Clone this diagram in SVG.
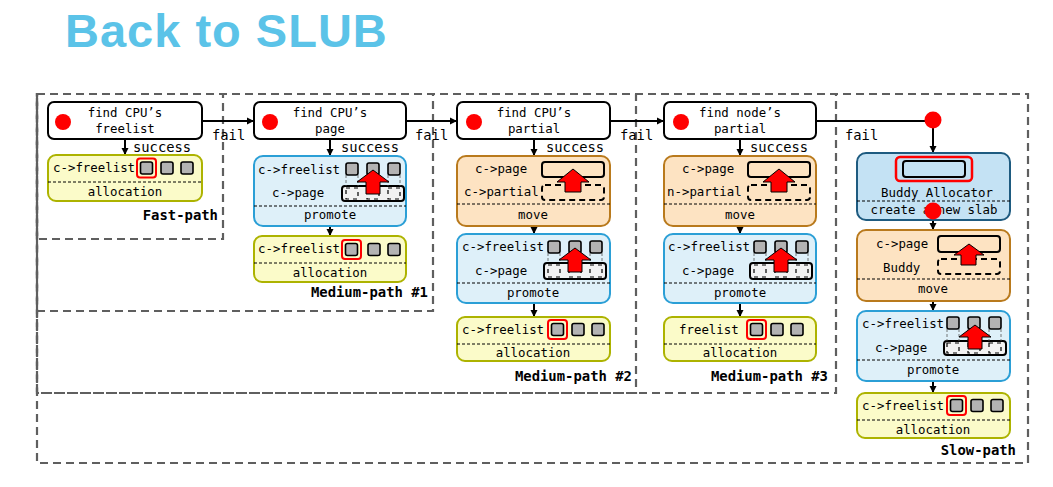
<svg xmlns="http://www.w3.org/2000/svg" width="1053" height="487" viewBox="0 0 1053 487">
<style>
.t{font-family:"DejaVu Sans Mono","Liberation Mono",monospace;font-size:12.4px;fill:#000}
.c{text-anchor:middle}
.lbl{font-family:"DejaVu Sans Mono","Liberation Mono",monospace;font-size:13.8px;fill:#000}
.reg{font-family:"DejaVu Sans Mono","Liberation Mono",monospace;font-size:13.9px;font-weight:bold;text-anchor:end;fill:#000}
.title{font-family:"Liberation Sans",Arial,sans-serif;font-size:47px;font-weight:bold;fill:#5bc3e8;letter-spacing:1px}
.region{fill:none;stroke:#5f5f5f;stroke-width:2.2;stroke-dasharray:8 5}
.find{fill:#fff;stroke:#000;stroke-width:2}
.alloc{fill:#fbfbc9;stroke:#adb300;stroke-width:2}
.prom{fill:#def0f9;stroke:#2b9fd6;stroke-width:2}
.move{fill:#fde3c2;stroke:#b97a1d;stroke-width:2}
.buddy{fill:#c4e2f4;stroke:#1e5b80;stroke-width:2}
.div{stroke:#000;stroke-width:1;stroke-dasharray:3 2}
.sq{fill:#b3b3b3;stroke:#000;stroke-width:1.6}
.hl{fill:none;stroke:#f00;stroke-width:2}
.dot{fill:#f00}
.arr{fill:#f00;stroke:#000;stroke-width:1}
.pg{fill:none;stroke:#000;stroke-width:2}
.pgp{fill:#f2f2f2;stroke:#000;stroke-width:2}
.ghost{fill:none;stroke:#000;stroke-width:1.2;stroke-dasharray:4 4}
.gline{stroke:#555;stroke-width:0.8;stroke-dasharray:3 2}
.dash{fill:none;stroke:#000;stroke-width:2;stroke-dasharray:6 4}
.con{fill:none;stroke:#000;stroke-width:2}
</style>
<defs>
<marker id="ah" markerUnits="userSpaceOnUse" markerWidth="8" markerHeight="8" refX="7" refY="4" orient="auto">
<path d="M0,0.5 L7,4 L0,7.5 Z" fill="#000"/>
</marker>
</defs>

<text class="title" x="65" y="47">Back to SLUB</text>

<g id="regions">
<rect class="region" x="37" y="94" width="991" height="369"/>
<rect class="region" x="37" y="94" width="799" height="299"/>
<rect class="region" x="37" y="94" width="599" height="299"/>
<rect class="region" x="37" y="94" width="396" height="217"/>
<rect class="region" x="37" y="94" width="186" height="145"/>
<text class="reg" x="218" y="220">Fast-path</text>
<text class="reg" x="428" y="297">Medium-path #1</text>
<text class="reg" x="632" y="381">Medium-path #2</text>
<text class="reg" x="828" y="381">Medium-path #3</text>
<text class="reg" x="1016" y="455">Slow-path</text>
</g>

<g id="connectors">
<path class="con" d="M202,121 H254" marker-end="url(#ah)"/>
<path class="con" d="M406,121 H457" marker-end="url(#ah)"/>
<path class="con" d="M610,121 H664" marker-end="url(#ah)"/>
<path class="con" d="M816,121 H933"/>
<path class="con" d="M933,125 V153" marker-end="url(#ah)"/>
<circle class="dot" cx="933" cy="120" r="8.5"/>
<path class="con" d="M125,139 V155" marker-end="url(#ah)"/>
<path class="con" d="M330,139 V156" marker-end="url(#ah)"/>
<path class="con" d="M330,226 V236" marker-end="url(#ah)"/>
<path class="con" d="M534,139 V156" marker-end="url(#ah)"/>
<path class="con" d="M534,226 V234" marker-end="url(#ah)"/>
<path class="con" d="M534,303 V317" marker-end="url(#ah)"/>
<path class="con" d="M740,139 V156" marker-end="url(#ah)"/>
<path class="con" d="M740,226 V234" marker-end="url(#ah)"/>
<path class="con" d="M740,303 V317" marker-end="url(#ah)"/>
<path class="con" d="M933,220 V230" marker-end="url(#ah)"/>
<path class="con" d="M933,300 V311" marker-end="url(#ah)"/>
<path class="con" d="M933,380 V393" marker-end="url(#ah)"/>
<text class="lbl" x="212" y="140">fail</text>
<text class="lbl" x="415" y="140">fail</text>
<text class="lbl" x="620" y="140">fail</text>
<text class="lbl" x="845" y="140">fail</text>
<text class="lbl" x="133" y="152">success</text>
<text class="lbl" x="341" y="152">success</text>
<text class="lbl" x="546" y="152">success</text>
<text class="lbl" x="750" y="152">success</text>
</g>

<!-- Fast path -->
<g id="find-cpu-freelist" transform="translate(48,102)">
<rect class="find" width="154" height="37" rx="6"/>
<circle class="dot" cx="15" cy="20" r="8"/>
<text class="t c" x="77" y="15">find CPU’s</text>
<text class="t c" x="77" y="31">freelist</text>
</g>
<g id="fast-alloc" transform="translate(48,155)">
<rect class="alloc" width="154" height="46" rx="8"/>
<line class="div" x1="0" y1="27" x2="154" y2="27"/>
<text class="t" x="5" y="17">c-&gt;freelist</text>
<rect class="hl" x="89" y="3.5" width="19" height="19" rx="3"/>
<rect class="sq" x="92.5" y="7" width="12" height="12" rx="2"/>
<rect class="sq" x="113" y="7" width="12" height="12" rx="2"/>
<rect class="sq" x="133" y="7" width="12" height="12" rx="2"/>
<text class="t c" x="77" y="41">allocation</text>
</g>

<!-- Medium path 1 -->
<g id="find-cpu-page" transform="translate(254,102)">
<rect class="find" width="152" height="37" rx="6"/>
<circle class="dot" cx="16" cy="20" r="8"/>
<text class="t c" x="76" y="15">find CPU’s</text>
<text class="t c" x="76" y="31">page</text>
</g>
<g id="m1-promote" transform="translate(254,156)">
<rect class="prom" width="152" height="70" rx="9"/>
<text class="t" x="4" y="18">c-&gt;freelist</text>
<text class="t" x="18" y="41">c-&gt;page</text>
<line class="div" x1="0" y1="50" x2="152" y2="50"/>
<text class="t c" x="76" y="63">promote</text>
<rect class="pgp" x="88" y="30" width="62" height="15" rx="3"/>
<line class="gline" x1="92" y1="19" x2="92" y2="30"/><line class="gline" x1="104" y1="19" x2="104" y2="30"/>
<line class="gline" x1="113" y1="19" x2="113" y2="30"/><line class="gline" x1="125" y1="19" x2="125" y2="30"/>
<line class="gline" x1="134" y1="19" x2="134" y2="30"/><line class="gline" x1="146" y1="19" x2="146" y2="30"/>
<rect class="ghost" x="92" y="32" width="12" height="11"/>
<rect class="ghost" x="113" y="32" width="12" height="11"/>
<rect class="ghost" x="134" y="32" width="12" height="11"/>
<rect class="sq" x="92" y="7" width="12" height="12" rx="2"/>
<rect class="sq" x="113" y="7" width="12" height="12" rx="2"/>
<rect class="sq" x="134" y="7" width="12" height="12" rx="2"/>
<path class="arr" d="M119,14 L135,26 L126,26 L126,38 L112,38 L112,26 L103,26 Z"/>
</g>
<g id="m1-alloc" transform="translate(254,236)">
<rect class="alloc" width="152" height="46" rx="8"/>
<line class="div" x1="0" y1="27" x2="152" y2="27"/>
<text class="t" x="4" y="17">c-&gt;freelist</text>
<rect class="hl" x="88" y="4" width="19" height="19" rx="3"/>
<rect class="sq" x="91.5" y="7.5" width="12" height="12" rx="2"/>
<rect class="sq" x="114" y="7.5" width="12" height="12" rx="2"/>
<rect class="sq" x="134" y="7.5" width="12" height="12" rx="2"/>
<text class="t c" x="76" y="41">allocation</text>
</g>

<!-- Medium path 2 -->
<g id="find-cpu-partial" transform="translate(457,102)">
<rect class="find" width="153" height="37" rx="6"/>
<circle class="dot" cx="17" cy="20" r="8"/>
<text class="t c" x="77" y="15">find CPU’s</text>
<text class="t c" x="77" y="31">partial</text>
</g>
<g id="m2-move" transform="translate(457,156)">
<rect class="move" width="153" height="70" rx="9"/>
<text class="t" x="18" y="17">c-&gt;page</text>
<text class="t" x="7" y="40">c-&gt;partial</text>
<line class="div" x1="0" y1="48" x2="153" y2="48"/>
<text class="t c" x="76" y="63">move</text>
<rect class="pg" x="85" y="6" width="62" height="15" rx="3"/>
<rect class="dash" x="85" y="29" width="62" height="15" rx="3"/>
<path class="arr" d="M116,13 L132,26 L124,26 L124,36 L108,36 L108,26 L100,26 Z"/>
</g>
<g id="m2-promote" transform="translate(457,234)">
<rect class="prom" width="153" height="69" rx="9"/>
<text class="t" x="5" y="17">c-&gt;freelist</text>
<text class="t" x="18" y="41">c-&gt;page</text>
<line class="div" x1="0" y1="49" x2="153" y2="49"/>
<text class="t c" x="76" y="63">promote</text>
<rect class="pgp" x="87" y="29" width="62" height="16" rx="3"/>
<line class="gline" x1="91" y1="19" x2="91" y2="29"/><line class="gline" x1="103" y1="19" x2="103" y2="29"/>
<line class="gline" x1="112" y1="19" x2="112" y2="29"/><line class="gline" x1="124" y1="19" x2="124" y2="29"/>
<line class="gline" x1="133" y1="19" x2="133" y2="29"/><line class="gline" x1="145" y1="19" x2="145" y2="29"/>
<rect class="ghost" x="91" y="31" width="12" height="12"/>
<rect class="ghost" x="112" y="31" width="12" height="12"/>
<rect class="ghost" x="133" y="31" width="12" height="12"/>
<rect class="sq" x="91" y="7" width="12" height="12" rx="2"/>
<rect class="sq" x="112" y="7" width="12" height="12" rx="2"/>
<rect class="sq" x="133" y="7" width="12" height="12" rx="2"/>
<path class="arr" d="M118,14 L134,26 L125,26 L125,38 L111,38 L111,26 L102,26 Z"/>
</g>
<g id="m2-alloc" transform="translate(457,317)">
<rect class="alloc" width="153" height="44" rx="8"/>
<line class="div" x1="0" y1="27" x2="153" y2="27"/>
<text class="t" x="5" y="17">c-&gt;freelist</text>
<rect class="hl" x="91" y="3" width="19" height="19" rx="3"/>
<rect class="sq" x="94.5" y="6.5" width="12" height="12" rx="2"/>
<rect class="sq" x="115" y="6.5" width="12" height="12" rx="2"/>
<rect class="sq" x="135" y="6.5" width="12" height="12" rx="2"/>
<text class="t c" x="76" y="40">allocation</text>
</g>

<!-- Medium path 3 -->
<g id="find-node-partial" transform="translate(664,102)">
<rect class="find" width="152" height="37" rx="6"/>
<circle class="dot" cx="17" cy="20" r="8"/>
<text class="t c" x="76" y="15">find node’s</text>
<text class="t c" x="76" y="31">partial</text>
</g>
<g id="m3-move" transform="translate(664,156)">
<rect class="move" width="152" height="70" rx="9"/>
<text class="t" x="18" y="17">c-&gt;page</text>
<text class="t" x="3" y="40">n-&gt;partial</text>
<line class="div" x1="0" y1="48" x2="152" y2="48"/>
<text class="t c" x="76" y="63">move</text>
<rect class="pg" x="84" y="6" width="62" height="15" rx="3"/>
<rect class="dash" x="84" y="29" width="62" height="15" rx="3"/>
<path class="arr" d="M115,13 L131,26 L123,26 L123,36 L107,36 L107,26 L99,26 Z"/>
</g>
<g id="m3-promote" transform="translate(664,234)">
<rect class="prom" width="152" height="69" rx="9"/>
<text class="t" x="4" y="17">c-&gt;freelist</text>
<text class="t" x="18" y="41">c-&gt;page</text>
<line class="div" x1="0" y1="49" x2="152" y2="49"/>
<text class="t c" x="76" y="63">promote</text>
<rect class="pgp" x="86" y="29" width="62" height="16" rx="3"/>
<line class="gline" x1="90" y1="19" x2="90" y2="29"/><line class="gline" x1="102" y1="19" x2="102" y2="29"/>
<line class="gline" x1="111" y1="19" x2="111" y2="29"/><line class="gline" x1="123" y1="19" x2="123" y2="29"/>
<line class="gline" x1="132" y1="19" x2="132" y2="29"/><line class="gline" x1="144" y1="19" x2="144" y2="29"/>
<rect class="ghost" x="90" y="31" width="12" height="12"/>
<rect class="ghost" x="111" y="31" width="12" height="12"/>
<rect class="ghost" x="132" y="31" width="12" height="12"/>
<rect class="sq" x="90" y="7" width="12" height="12" rx="2"/>
<rect class="sq" x="111" y="7" width="12" height="12" rx="2"/>
<rect class="sq" x="132" y="7" width="12" height="12" rx="2"/>
<path class="arr" d="M117,14 L133,26 L124,26 L124,38 L110,38 L110,26 L101,26 Z"/>
</g>
<g id="m3-alloc" transform="translate(664,317)">
<rect class="alloc" width="152" height="44" rx="8"/>
<line class="div" x1="0" y1="27" x2="152" y2="27"/>
<text class="t" x="15" y="17">freelist</text>
<rect class="hl" x="83" y="3" width="19" height="19" rx="3"/>
<rect class="sq" x="86.5" y="6.5" width="12" height="12" rx="2"/>
<rect class="sq" x="107" y="6.5" width="12" height="12" rx="2"/>
<rect class="sq" x="127" y="6.5" width="12" height="12" rx="2"/>
<text class="t c" x="76" y="40">allocation</text>
</g>

<!-- Slow path -->
<g id="buddy-allocator" transform="translate(857,153)">
<rect class="buddy" width="153" height="67" rx="9"/>
<rect class="hl" x="39" y="4" width="76" height="24" rx="4" style="stroke-width:2.5"/>
<rect x="46" y="8" width="62" height="16" rx="3" fill="#c4e2f4" stroke="#000" stroke-width="2"/>
<text class="t c" x="80" y="44">Buddy Allocator</text>
<line class="div" x1="0" y1="48" x2="153" y2="48"/>
<text class="t c" x="77" y="61">create a new slab</text>
<circle class="dot" cx="76" cy="58" r="8.5"/>
</g>
<g id="slow-move" transform="translate(857,230)">
<rect class="move" width="153" height="71" rx="9"/>
<text class="t" x="19" y="18">c-&gt;page</text>
<text class="t" x="26" y="42">Buddy</text>
<line class="div" x1="0" y1="49" x2="153" y2="49"/>
<text class="t c" x="76" y="63">move</text>
<rect class="pg" x="81" y="6" width="62" height="16" rx="3"/>
<rect class="dash" x="81" y="29" width="62" height="15" rx="3"/>
<path class="arr" d="M112,14 L127,25 L119,25 L119,35 L104,35 L104,25 L97,25 Z"/>
</g>
<g id="slow-promote" transform="translate(857,311)">
<rect class="prom" width="153" height="70" rx="9"/>
<text class="t" x="5" y="17">c-&gt;freelist</text>
<text class="t" x="18" y="41">c-&gt;page</text>
<line class="div" x1="0" y1="49" x2="153" y2="49"/>
<text class="t c" x="76" y="63">promote</text>
<rect class="pgp" x="87" y="30" width="62" height="14" rx="3"/>
<line class="gline" x1="90" y1="18" x2="90" y2="30"/><line class="gline" x1="102" y1="18" x2="102" y2="30"/>
<line class="gline" x1="111" y1="18" x2="111" y2="30"/><line class="gline" x1="123" y1="18" x2="123" y2="30"/>
<line class="gline" x1="132" y1="18" x2="132" y2="30"/><line class="gline" x1="144" y1="18" x2="144" y2="30"/>
<rect class="ghost" x="90" y="32" width="12" height="10"/>
<rect class="ghost" x="111" y="32" width="12" height="10"/>
<rect class="ghost" x="132" y="32" width="12" height="10"/>
<rect class="sq" x="90" y="6" width="12" height="12" rx="2"/>
<rect class="sq" x="111" y="6" width="12" height="12" rx="2"/>
<rect class="sq" x="132" y="6" width="12" height="12" rx="2"/>
<path class="arr" d="M118,14 L134,26 L125,26 L125,38 L111,38 L111,26 L102,26 Z"/>
</g>
<g id="slow-alloc" transform="translate(857,393)">
<rect class="alloc" width="153" height="45" rx="8"/>
<line class="div" x1="0" y1="27" x2="153" y2="27"/>
<text class="t" x="5" y="17">c-&gt;freelist</text>
<rect class="hl" x="90" y="3" width="19" height="19" rx="3"/>
<rect class="sq" x="93.5" y="6.5" width="12" height="12" rx="2"/>
<rect class="sq" x="114" y="6.5" width="12" height="12" rx="2"/>
<rect class="sq" x="134" y="6.5" width="12" height="12" rx="2"/>
<text class="t c" x="76" y="41">allocation</text>
</g>
</svg>
